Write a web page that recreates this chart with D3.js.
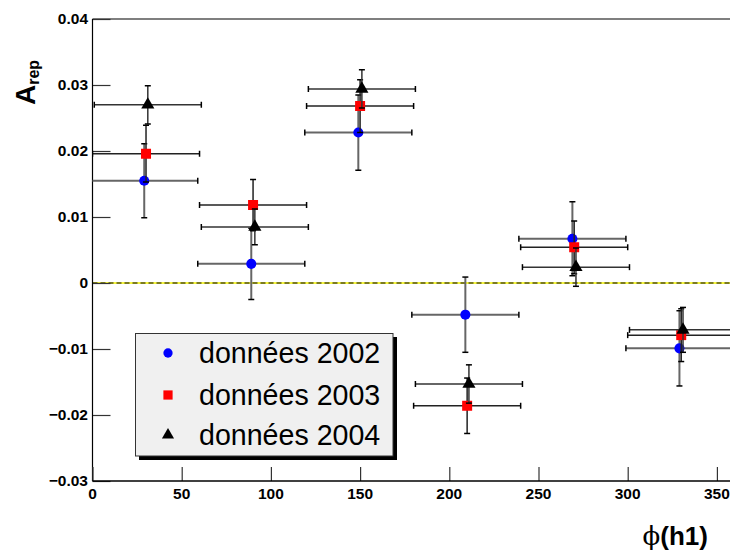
<!DOCTYPE html>
<html><head><meta charset="utf-8">
<script src="https://cdn.jsdelivr.net/npm/d3@7"></script>
<style>body{margin:0;background:#fff;}svg{display:block;font-family:"Liberation Sans",Arial,sans-serif;}</style>
</head><body>
<script>
// ---- data ----
const x2002 = [29, 89, 149, 209, 269, 329];
const x2003 = [30, 90, 150, 210, 270, 330];
const x2004 = [31, 91, 151, 211, 271, 331];
const xErr = [30, 30, 30, 30, 30, 30];
const a2002 = [0.0155, 0.0029, 0.0228, -0.0048, 0.0067, -0.0099];
const e2002 = [0.0056, 0.0054, 0.0057, 0.0057, 0.0056, 0.0057];
const a2003 = [0.0196, 0.0118, 0.0268, -0.0186, 0.0054, -0.0079];
const e2003 = [0.0043, 0.0039, 0.0040, 0.0042, 0.0040, 0.0040];
const a2004 = [0.0270, 0.0085, 0.0294, -0.0153, 0.0024, -0.0071];
const e2004 = [0.0029, 0.0027, 0.0029, 0.0029, 0.0029, 0.0034];
const seriesNames = ["données 2002", "données 2003", "données 2004"];
const xTicks = [0, 50, 100, 150, 200, 250, 300, 350];
const yTicks = [-0.03, -0.02, -0.01, 0, 0.01, 0.02, 0.03, 0.04];

const W = 730, H = 550;
const L = 92.5, T = 19, B = 481;
const x = d3.scaleLinear().domain([0, 360]).range([L, L + 360 * 1.784]);
const y = d3.scaleLinear().domain([-0.03, 0.04]).range([B, T]);

const svg = d3.select("body").append("svg").attr("width", W).attr("height", H);
svg.append("defs").append("clipPath").attr("id", "clip")
  .append("rect").attr("x", L).attr("y", T).attr("width", W - L).attr("height", B - T);

// top frame line
svg.append("line").attr("x1", L).attr("x2", W).attr("y1", T).attr("y2", T)
  .attr("stroke", "#555").attr("stroke-width", 1.6);

// zero line (yellow with black dashes)
svg.append("line").attr("x1", L).attr("x2", W).attr("y1", y(0)).attr("y2", y(0))
  .attr("stroke", "#f2f200").attr("stroke-width", 1.5);
svg.append("line").attr("x1", L).attr("x2", W).attr("y1", y(0)).attr("y2", y(0))
  .attr("stroke", "#000").attr("stroke-width", 1).attr("stroke-dasharray", "5,3");

// axes
const yAxis = d3.axisRight(y).tickValues(yTicks).tickSize(18).tickFormat("");
const gy = svg.append("g").attr("transform", `translate(${L},0)`).call(yAxis);
gy.select(".domain").remove();
gy.selectAll(".tick line").attr("stroke", "#333").attr("stroke-width", 1.2);
svg.append("line").attr("x1", L).attr("x2", L).attr("y1", T).attr("y2", B).attr("stroke", "#000").attr("stroke-width", 1.2);

const xAxis = d3.axisTop(x).tickValues(xTicks).tickSize(14).tickFormat("");
const gx = svg.append("g").attr("transform", `translate(0,${B})`).call(xAxis);
gx.select(".domain").remove();
gx.selectAll(".tick line").attr("stroke", "#333").attr("stroke-width", 1.2);
svg.append("line").attr("x1", L).attr("x2", W).attr("y1", B).attr("y2", B).attr("stroke", "#000").attr("stroke-width", 1.4);

// tick labels
svg.append("g").selectAll("text").data(yTicks).join("text")
  .attr("x", 88).attr("y", d => y(d)).attr("dy", "0.35em")
  .attr("text-anchor", "end").attr("font-size", 15.5).attr("font-weight", "bold")
  .text(d => d === 0 ? "0" : d3.format(".2f")(d));
svg.append("g").selectAll("text").data(xTicks).join("text")
  .attr("x", d => x(d)).attr("y", 499)
  .attr("text-anchor", "middle").attr("font-size", 15.5).attr("font-weight", "bold")
  .text(d => d);

// axis titles
const yt = svg.append("text").attr("transform", "translate(35,105) rotate(-90)")
  .attr("font-weight", "bold").attr("font-size", 28);
yt.append("tspan").text("A");
yt.append("tspan").attr("font-size", 16).attr("dy", 4).text("rep");

const xt = svg.append("text").attr("x", 708).attr("y", 545).attr("text-anchor", "end")
  .attr("font-size", 26).attr("font-weight", "bold");
xt.append("tspan").attr("font-weight", "normal").attr("font-family", "DejaVu Serif").text("ϕ");
xt.append("tspan").text("(h1)");

// data
const series = [
  {xs: x2002, ys: a2002, es: e2002, color: "#0000ff", sym: d3.symbolCircle, size: 80, ec: "#666", ew: 2},
  {xs: x2003, ys: a2003, es: e2003, color: "#ff0000", sym: d3.symbolSquare, size: 100, ec: "#222", ew: 1.5},
  {xs: x2004, ys: a2004, es: e2004, color: "#000000", sym: d3.symbolTriangle, size: 75, ec: "#333", ew: 1.5}
];
const plot = svg.append("g").attr("clip-path", "url(#clip)");
const cap = 3;
series.forEach(s => {
  const g = plot.append("g");
  const pts = s.xs.map((xv, i) => ({x: xv, y: s.ys[i], e: s.es[i], xe: xErr[i]}));
  pts.forEach(p => {
    const cx = x(p.x), cy = y(p.y);
    const x0 = x(p.x - p.xe), x1 = x(p.x + p.xe);
    const y0 = y(p.y - p.e), y1 = y(p.y + p.e);
    const segs = [
      [x0, cy, x1, cy], [cx, y0, cx, y1],
      [x0, cy - cap, x0, cy + cap], [x1, cy - cap, x1, cy + cap],
      [cx - cap, y0, cx + cap, y0], [cx - cap, y1, cx + cap, y1]
    ];
    g.selectAll(null).data(segs).join("line")
      .attr("x1", d => d[0]).attr("y1", d => d[1]).attr("x2", d => d[2]).attr("y2", d => d[3])
      .attr("stroke", (d, i) => i < 2 ? s.ec : "#000").attr("stroke-width", (d, i) => i < 2 ? s.ew : 1.5);
  });
  g.selectAll("path").data(pts).join("path")
    .attr("d", d3.symbol().type(s.sym).size(s.size))
    .attr("transform", d => `translate(${x(d.x)},${y(d.y)})`)
    .attr("fill", s.color);
});

// legend
const lg = svg.append("g");
lg.append("rect").attr("x", 139).attr("y", 337).attr("width", 258).attr("height", 123).attr("fill", "#000");
lg.append("rect").attr("x", 135.5).attr("y", 333.5).attr("width", 257.5).attr("height", 122.5)
  .attr("fill", "#f0f0f0").attr("stroke", "#333").attr("stroke-width", 1);
const legRows = [353, 395, 435];
series.forEach((s, i) => {
  lg.append("path").attr("d", d3.symbol().type(s.sym).size(s.size * 0.85))
    .attr("transform", `translate(168,${legRows[i]})`).attr("fill", s.color);
  lg.append("text").attr("x", 199).attr("y", legRows[i]).attr("dy", "0.35em")
    .attr("font-size", 28.6).text(seriesNames[i]);
});
</script>
</body></html>
